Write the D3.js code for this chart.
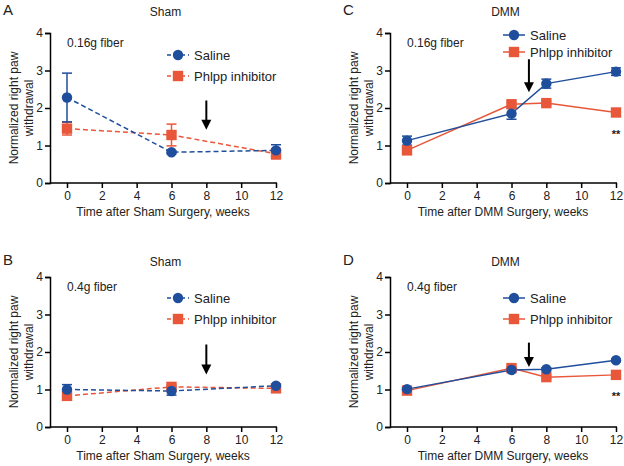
<!DOCTYPE html>
<html><head><meta charset="utf-8">
<script src="https://cdn.jsdelivr.net/npm/d3@7"></script>
<style>body{margin:0;background:#fff}svg{display:block;font-family:"Liberation Sans",Arial,sans-serif}</style>
</head><body><svg id="c" width="624" height="466"></svg>
<script>
const xTicks = [0, 2, 4, 6, 8, 10, 12];
const yTicks = [0, 1, 2, 3, 4];
const seriesNames = ["Saline", "Phlpp inhibitor"];

// Panel A: Sham, 0.16g
const shamWeeks = [0, 6, 12];
const aSaline = [2.28, 0.82, 0.87];
const aSalineErr = [0.65, 0.04, 0.15];
const aPhlpp = [1.45, 1.28, 0.78];
const aPhlppErr = [0.17, 0.29, 0.14];
// Panel B: Sham, 0.4g
const bSaline = [1.00, 0.96, 1.10];
const bSalineErr = [0.13, 0.11, 0.04];
const bPhlpp = [0.83, 1.07, 1.03];
const bPhlppErr = [0.05, 0.05, 0.04];
// Panel C: DMM, 0.16g
const dmmWeeks = [0, 6, 8, 12];
const cSaline = [1.13, 1.85, 2.65, 2.97];
const cSalineErr = [0.12, 0.15, 0.12, 0.10];
const cPhlpp = [0.87, 2.10, 2.13, 1.88];
const cPhlppErr = [0.05, 0.05, 0.05, 0.05];
// Panel D: DMM, 0.4g
const dSaline = [1.01, 1.52, 1.54, 1.78];
const dSalineErr = [0.04, 0.04, 0.04, 0.04];
const dPhlpp = [0.97, 1.57, 1.33, 1.39];
const dPhlppErr = [0.04, 0.04, 0.04, 0.04];

const BLUE = "#1f4e9c", ORANGE = "#e9573a";
const svg = d3.select("#c");

const panels = [
  {letter:"A", title:"Sham", fiber:"0.16g fiber", weeks:shamWeeks, s:aSaline, se:aSalineErr, p:aPhlpp, pe:aPhlppErr,
   ox:0, oy:0, dashed:true, arrowX:8, arrowY:[2.2, 1.42], xlab:"Time after Sham Surgery, weeks", legX:178, legY:[55,76], stars:false},
  {letter:"C", title:"DMM", fiber:"0.16g fiber", weeks:dmmWeeks, s:cSaline, se:cSalineErr, p:cPhlpp, pe:cPhlppErr,
   ox:340, oy:0, dashed:false, arrowX:7, arrowY:[3.3, 2.42], xlab:"Time after DMM Surgery, weeks", legX:514, legY:[35,52], stars:true},
  {letter:"B", title:"Sham", fiber:"0.4g fiber", weeks:shamWeeks, s:bSaline, se:bSalineErr, p:bPhlpp, pe:bPhlppErr,
   ox:0, oy:244, dashed:true, arrowX:8, arrowY:[2.2, 1.4], xlab:"Time after Sham Surgery, weeks", legX:178, legY:[298,319], stars:false},
  {letter:"D", title:"DMM", fiber:"0.4g fiber", weeks:dmmWeeks, s:dSaline, se:dSalineErr, p:dPhlpp, pe:dPhlppErr,
   ox:340, oy:244, dashed:false, arrowX:7, arrowY:[2.25, 1.6], xlab:"Time after DMM Surgery, weeks", legX:514, legY:[298,319], stars:true}
];

panels.forEach(P => {
  const g = svg.append("g");
  const x = d3.scaleLinear().domain([0,12]).range([67+P.ox, 276+P.ox]);
  const y = d3.scaleLinear().domain([0,4]).range([183+P.oy, 33+P.oy]);
  const axX = 50 + P.ox, axY = 183 + P.oy;

  // y axis
  const ya = g.append("g").attr("transform", `translate(${axX},0)`)
    .call(d3.axisLeft(y).tickValues(yTicks).tickSize(5).tickPadding(2).tickFormat(d3.format("d")));
  // x axis
  const xa = g.append("g").attr("transform", `translate(0,${axY})`)
    .call(d3.axisBottom(x).tickValues(xTicks).tickSize(5).tickPadding(3).tickFormat(d3.format("d")));
  xa.select(".domain").remove();
  xa.append("line").attr("x1", axX).attr("x2", x(12)+1).attr("y1",0).attr("y2",0).attr("stroke","#000").attr("stroke-width",1.5);
  [ya, xa].forEach(a => {
    a.selectAll("text").attr("font-size", 12).attr("fill", "#222").attr("font-family", "Liberation Sans, Arial, sans-serif");
    a.selectAll("line").attr("stroke", "#000").attr("stroke-width", 1.5);
    a.select(".domain").attr("stroke", "#000").attr("stroke-width", 1.5);
  });

  // labels
  g.append("text").attr("x", 3+P.ox).attr("y", 15+P.oy+(P.oy?6:0)).attr("font-size", 15).attr("fill","#222").text(P.letter);
  g.append("text").attr("x", x(6)-6).attr("y", 16+P.oy+(P.oy?6:0)).attr("text-anchor","middle").attr("font-size", 12).attr("fill","#222").text(P.title);
  g.append("text").attr("x", x(0)).attr("y", 47+P.oy).attr("font-size", 12).attr("fill","#222").text(P.fiber);
  g.append("text").attr("x", (axX + x(12))/2).attr("y", 216+P.oy).attr("text-anchor","middle").attr("font-size", 12).attr("fill","#222").text(P.xlab);
  const yl = g.append("text").attr("transform", `translate(${18+P.ox},${y(2)}) rotate(-90)`).attr("text-anchor","middle").attr("font-size", 12).attr("fill","#222");
  yl.append("tspan").attr("x",0).attr("dy",0).text("Normalized right paw");
  yl.append("tspan").attr("x",0).attr("dy",15).text("withdrawal");

  const series = [
    {vals:P.s, err:P.se, color:BLUE, shape:"circle", name:seriesNames[0]},
    {vals:P.p, err:P.pe, color:ORANGE, shape:"square", name:seriesNames[1]}
  ];
  const line = d3.line().x(d => x(d[0])).y(d => y(d[1]));
  // draw phlpp then saline? order: saline first, orange on top in sham; keep orange drawn after
  series.slice().reverse().forEach(S => {
    const pts = P.weeks.map((w,i) => [w, S.vals[i], S.err[i]]);
    g.append("path").datum(pts).attr("d", line).attr("fill","none").attr("stroke", S.color)
      .attr("stroke-width", 1.5).attr("stroke-dasharray", P.dashed ? "5,3" : null);
    pts.forEach(d => {
      const cx = x(d[0]);
      g.append("line").attr("x1",cx).attr("x2",cx).attr("y1",y(d[1]-d[2])).attr("y2",y(d[1]+d[2])).attr("stroke",S.color).attr("stroke-width",1.5);
      [d[1]-d[2], d[1]+d[2]].forEach(v => g.append("line").attr("x1",cx-5).attr("x2",cx+5).attr("y1",y(v)).attr("y2",y(v)).attr("stroke",S.color).attr("stroke-width",1.5));
    });
  });
  series.slice().reverse().forEach(S => {
    P.weeks.forEach((w,i) => {
      const cx = x(w), cy = y(S.vals[i]);
      if (S.shape === "circle") g.append("circle").attr("cx",cx).attr("cy",cy).attr("r",5.2).attr("fill",S.color);
      else g.append("rect").attr("x",cx-5.2).attr("y",cy-5.2).attr("width",10.4).attr("height",10.4).attr("fill",S.color);
    });
  });

  // legend
  series.forEach((S, k) => {
    const ly = P.legY[k];
    g.append("line").attr("x1",P.legX-11).attr("x2",P.legX+11).attr("y1",ly).attr("y2",ly).attr("stroke",S.color).attr("stroke-width",1.5)
      .attr("stroke-dasharray", P.dashed ? "4,3" : null);
    if (S.shape === "circle") g.append("circle").attr("cx",P.legX).attr("cy",ly).attr("r",5.2).attr("fill",S.color);
    else g.append("rect").attr("x",P.legX-5.2).attr("y",ly-5.2).attr("width",10.4).attr("height",10.4).attr("fill",S.color);
    g.append("text").attr("x",P.legX+16).attr("y",ly+4.5).attr("font-size",13).attr("fill","#222").text(S.name);
  });

  // arrow
  const ax = x(P.arrowX);
  const y1 = y(P.arrowY[0]), y2 = y(P.arrowY[1]);
  g.append("line").attr("x1",ax).attr("x2",ax).attr("y1",y1).attr("y2",y2-8).attr("stroke","#000").attr("stroke-width",2);
  g.append("path").attr("d",`M${ax-5},${y2-10}L${ax+5},${y2-10}L${ax},${y2}Z`).attr("fill","#000");

  if (P.stars) {
    g.append("text").attr("x", x(12)).attr("y", y(P.p[3]) + 25).attr("text-anchor","middle").attr("font-size",11).attr("font-weight","bold").attr("fill","#222").text("**");
  }
});
</script></body></html>
